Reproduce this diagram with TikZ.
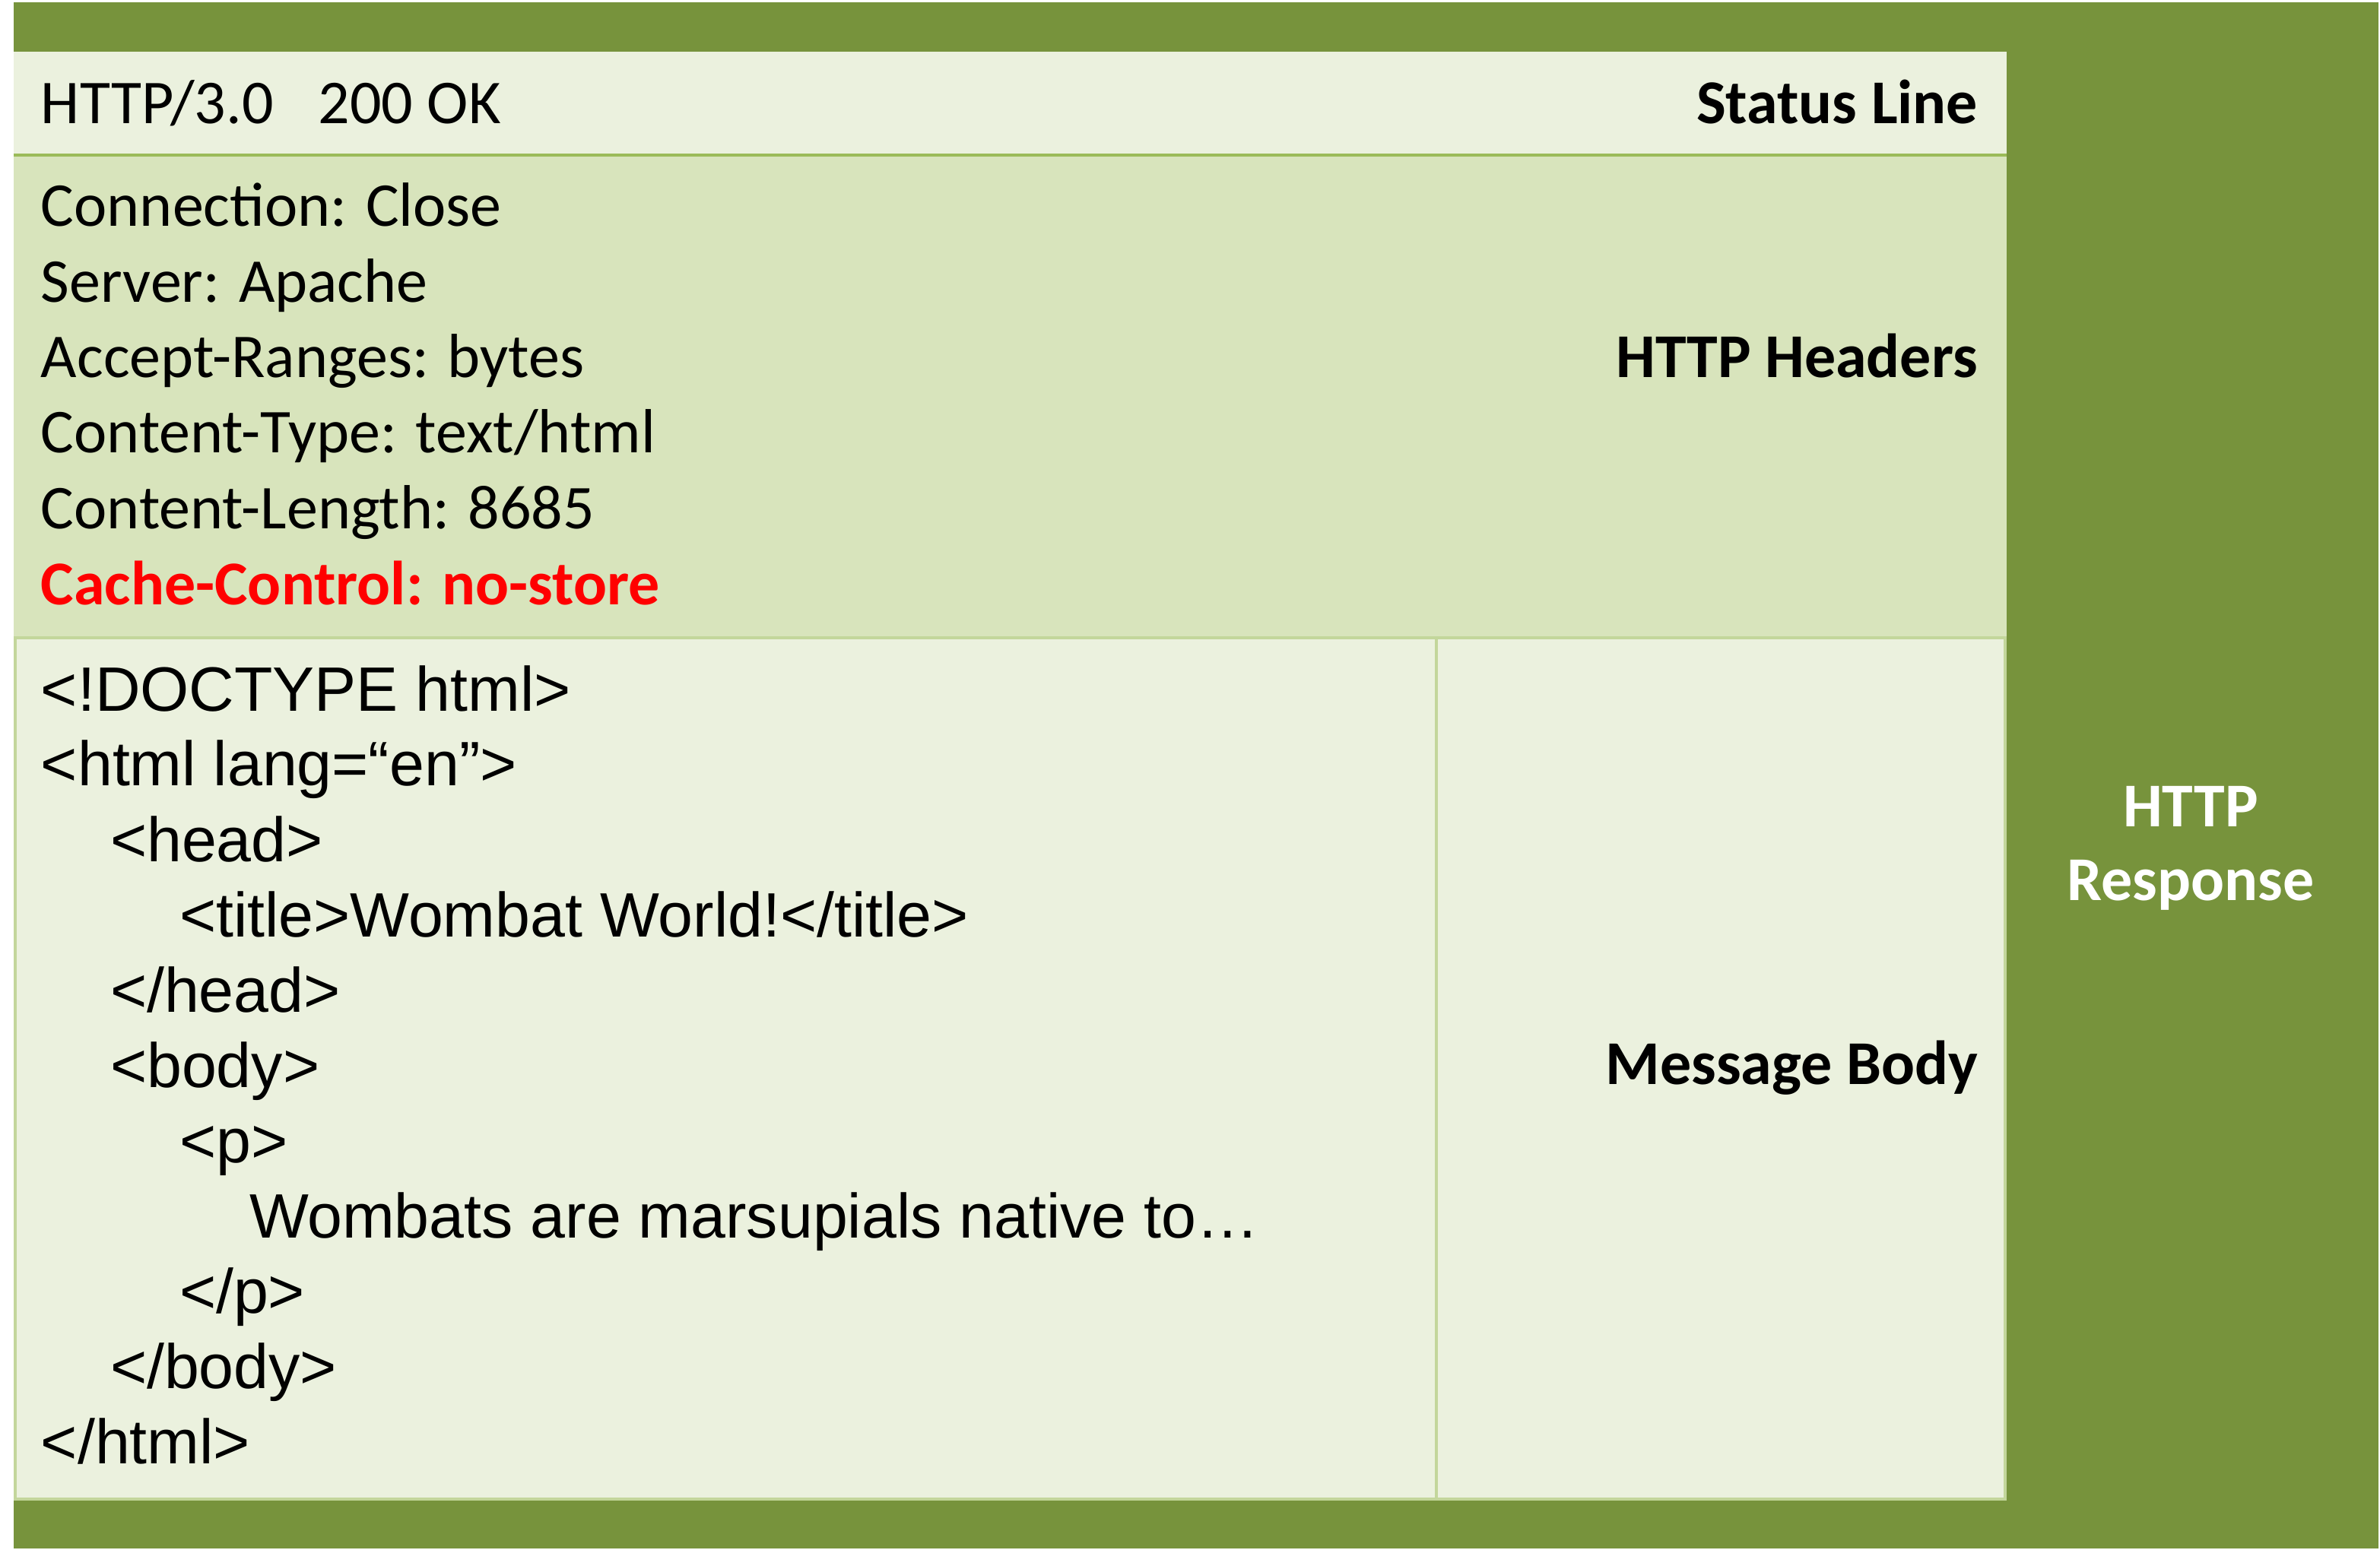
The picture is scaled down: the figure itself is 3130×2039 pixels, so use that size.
\documentclass[tikz,border=0pt]{standalone}
\usepackage{fontspec}
\setmainfont{Carlito}
\newfontfamily\arialfont{Liberation Sans}

\begin{document}
\begin{tikzpicture}[x=0.1pt,y=-0.1pt,
  txt/.style={inner sep=0, outer sep=0, anchor=base west, font=\fontsize{8.2}{9.9}\selectfont},
  code/.style={inner sep=0, outer sep=0, anchor=base west, font=\arialfont\fontsize{8.25}{9.9}\selectfont},
  lbl/.style={inner sep=0, outer sep=0, anchor=base east, font=\fontsize{8.2}{9.9}\bfseries\selectfont}]
\useasboundingbox (0,0) rectangle (3130,2039);
\definecolor{custcol_77_93_3c}{RGB}{119, 147, 60}
\definecolor{custcol_eb_f1_de}{RGB}{235, 241, 222}
\definecolor{custcol_d8_e4_bc}{RGB}{216, 228, 188}
\definecolor{custcol_c3_d6_9b}{RGB}{195, 214, 155}
\definecolor{custcol_9b_bb_59}{RGB}{155, 187, 89}
\definecolor{custcol_ff_00_00}{RGB}{255, 0, 0}
% frame
\fill [custcol_77_93_3c]  (18.0,3.0) rectangle (3128.0,2037.0) ;
\fill [custcol_eb_f1_de]  (18.0,68.0) rectangle (2639.0,204.0) ;
\fill [custcol_d8_e4_bc]  (18.0,204.0) rectangle (2639.0,839.0) ;
\fill [custcol_eb_f1_de]  (18.0,839.0) rectangle (2639.0,1972.0) ;
\draw [line width=0.4pt, custcol_9b_bb_59 ]  (18.0,204.0) -- (2639.0,204.0) ;
\draw [line width=0.4pt, custcol_c3_d6_9b ]  (18.0,839.0) -- (2639.0,839.0) ;
\draw [line width=0.4pt, custcol_c3_d6_9b ]  (1889.0,839.0) -- (1889.0,1972.0) ;
\draw [line width=0.4pt, custcol_c3_d6_9b ]  (20.0,839.0) -- (20.0,1972.0) -- (2637.0,1972.0) -- (2637.0,839.0) ;
% status line
\node[txt] (status) at (54.0,163.0) {HTTP/3.0\hspace{5.9pt}200 OK};
\node[lbl] (statuslbl) at (2601.0,163.0) {Status Line};
% headers
\node[txt] (hconn) at (54.0,298.0) {Connection: Close};
\node[txt] (hserver) at (54.0,398.0) {Server: Apache};
\node[txt] (haccept) at (54.0,497.0) {Accept-Ranges: bytes};
\node[txt] (htype) at (54.0,596.0) {Content-Type: text/html};
\node[txt] (hlength) at (54.0,696.0) {Content-Length: 8685};
\node[txt, custcol_ff_00_00, font=\fontsize{8.2}{9.9}\bfseries\selectfont] (hcache) at (54.0,795.0) {Cache-Control: no-store};
\node[lbl] (headerslbl) at (2601.0,497.0) {HTTP Headers};
% body
\node[code] (doctype) at (54.0,935.0) {<!DOCTYPE html>};
\node[code] (htmlopen) at (54.0,1034.0) {<html lang=“en”>};
\node[code] (headopen) at (145.0,1133.0) {<head>};
\node[code] (title) at (236.0,1232.0) {<title>Wombat World!</title>};
\node[code] (headclose) at (145.0,1331.0) {</head>};
\node[code] (bodyopen) at (145.0,1430.0) {<body>};
\node[code] (popen) at (236.0,1529.0) {<p>};
\node[code] (ptext) at (328.0,1628.0) {Wombats are marsupials native to…};
\node[code] (pclose) at (236.0,1727.0) {</p>};
\node[code] (bodyclose) at (145.0,1826.0) {</body>};
\node[code] (htmlclose) at (54.0,1925.0) {</html>};
\node[lbl] (bodylbl) at (2601.0,1426.0) {Message Body};
% outer label
\node[lbl, anchor=base, white] (resp1) at (2881.0,1087.0) {HTTP};
\node[lbl, anchor=base, white] (resp2) at (2881.0,1184.0) {Response};
\end{tikzpicture}
\end{document}
